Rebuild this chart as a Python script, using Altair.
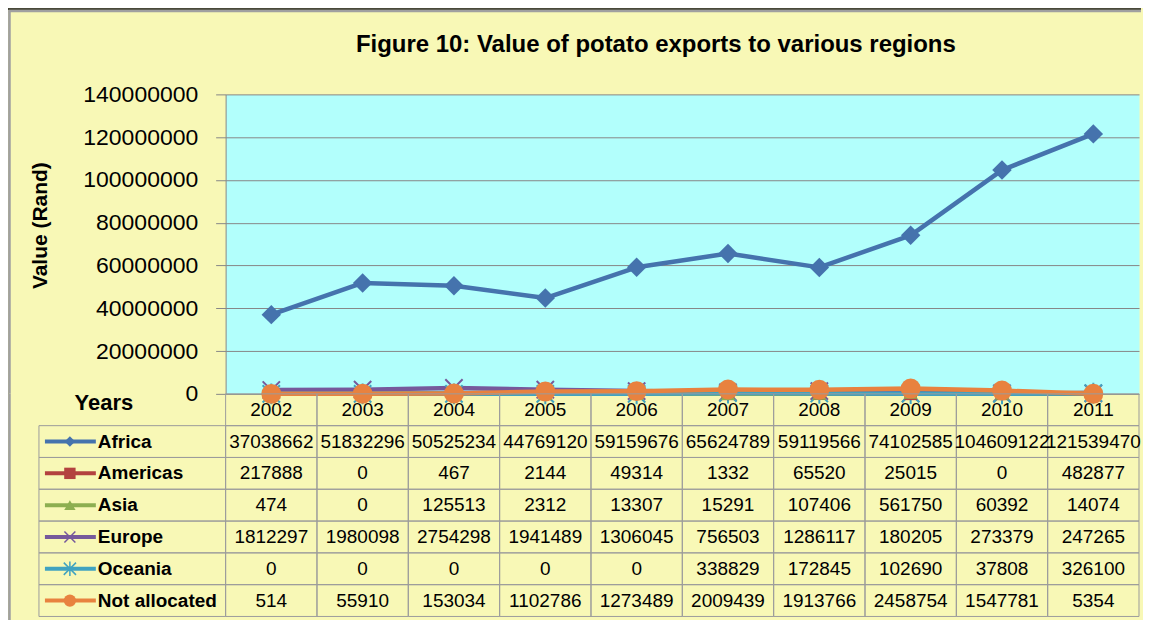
import altair as alt
import pandas as pd

# ---------------- data ----------------
years = ["2002", "2003", "2004", "2005", "2006", "2007", "2008", "2009", "2010", "2011"]
series = ["Africa", "Americas", "Asia", "Europe", "Oceania", "Not allocated"]

africa = [37038662, 51832296, 50525234, 44769120, 59159676, 65624789, 59119566, 74102585, 104609122, 121539470]
americas = [217888, 0, 467, 2144, 49314, 1332, 65520, 25015, 0, 482877]
asia = [474, 0, 125513, 2312, 13307, 15291, 107406, 561750, 60392, 14074]
europe = [1812297, 1980098, 2754298, 1941489, 1306045, 756503, 1286117, 180205, 273379, 247265]
oceania = [0, 0, 0, 0, 0, 338829, 172845, 102690, 37808, 326100]
not_allocated = [514, 55910, 153034, 1102786, 1273489, 2009439, 1913766, 2458754, 1547781, 5354]

y_ticks = [0, 20000000, 40000000, 60000000, 80000000, 100000000, 120000000, 140000000]
title_text = "Figure 10: Value of potato exports to various regions"
y_title = "Value (Rand)"
x_title = "Years"

# ---------------- styles ----------------
FONT = "Liberation Sans"
colors = ["#4573AD", "#B3423F", "#8DAF50", "#76599B", "#40A3C0", "#E8823F"]
X_PATH = "M-1,-1L1,1M-1,1L1,-1"
STAR_PATH = "M-1,-1L1,1M-1,1L1,-1M0,-1.2L0,1.2"
shapes = ["diamond", "square", "triangle-up", X_PATH, STAR_PATH, "circle"]
filled = [True, True, True, False, False, True]
plot_sizes = [380, 160, 200, 300, 300, 400]
legend_sizes = [110, 130, 130, 120, 150, 150]
YELLOW = "#F8F8B6"
CYAN = "#B2FFFC"
GRID = "#878787"
CELL = "#9C9C9C"

W, H = 915, 300
TH = 223

vals = [africa, americas, asia, europe, oceania, not_allocated]
long_df = pd.DataFrame(
    [{"series": s, "year": y, "value": v[i]} for s, v in zip(series, vals) for i, y in enumerate(years)]
)

color_scale = alt.Scale(domain=series, range=colors)

# ---------------- top (line) chart ----------------
x_top = alt.X("year:O", scale=alt.Scale(type="point", domain=years, padding=0.5), axis=None)
y_top = alt.Y(
    "value:Q",
    scale=alt.Scale(domain=[0, 140000000], nice=False),
    axis=alt.Axis(
        values=y_ticks, format="d", title=y_title,
        titleFontSize=21, titleFontWeight="bold", titleFont=FONT, titleColor="#000",
        titleX=-185, titleY=131, titleBaseline="middle", titleAngle=-90,
        labelFontSize=23, labelFont=FONT, labelColor="#000", labelPadding=18,
        tickSize=10, tickColor=GRID, domainColor=GRID, gridColor=GRID, grid=True,
        gridWidth=1, tickWidth=1, domainWidth=1,
    ),
)

lines = alt.Chart(long_df).mark_line(strokeWidth=4.5, strokeJoin="round").encode(
    x=x_top, y=y_top, color=alt.Color("series:N", scale=color_scale, legend=None),
    order=alt.Order("year:O"),
)

unfilled_layers = []
filled_layers = []
for i, s in enumerate(series):
    p = alt.Chart(long_df).transform_filter(alt.datum.series == s).mark_point(
        shape=shapes[i], size=plot_sizes[i], filled=filled[i], opacity=1,
        strokeWidth=2 if not filled[i] else 0,
    ).encode(x=x_top, y=alt.Y("value:Q"), color=alt.Color("series:N", scale=color_scale, legend=None))
    (filled_layers if filled[i] else unfilled_layers).append(p)

one = pd.DataFrame({"t": [title_text]})
title_mark = alt.Chart(one).mark_text(
    font=FONT, fontSize=24, fontWeight="bold", align="center", baseline="alphabetic", color="#000"
).encode(x=alt.value(431), y=alt.value(-42), text="t:N")

border_top_l = alt.Chart(one).mark_rule(color="#111", strokeWidth=1.5).encode(
    x=alt.value(-218.5), y=alt.value(-86), y2=alt.value(H))
border_top_l2 = alt.Chart(one).mark_rule(color="#A0A0A0", strokeWidth=2.5).encode(
    x=alt.value(-216.5), y=alt.value(-84), y2=alt.value(H))
border_top_t = alt.Chart(one).mark_rule(color="#111", strokeWidth=1.5).encode(
    x=alt.value(-219), x2=alt.value(W + 2), y=alt.value(-85.5))
border_top_t2 = alt.Chart(one).mark_rule(color="#A0A0A0", strokeWidth=2.5).encode(
    x=alt.value(-217.5), x2=alt.value(W + 2), y=alt.value(-83.5))

top = alt.layer(
    border_top_l, border_top_l2, border_top_t, border_top_t2, title_mark,
    lines, *unfilled_layers, *filled_layers
).properties(width=W, height=H, view=alt.ViewBackground(fill=CYAN, stroke="transparent"))

# ---------------- table chart ----------------
rows = [x_title] + series
cells = []
for y_i, y in enumerate(years):
    cells.append({"row": x_title, "year": y, "label": y})
for s, v in zip(series, vals):
    for y_i, y in enumerate(years):
        cells.append({"row": s, "year": y, "label": str(v[y_i])})
cells_df = pd.DataFrame(cells)
leg_df = pd.DataFrame({"row": series, "series": series})
years_df = pd.DataFrame({"row": [x_title]})

x_tab = alt.X("year:O", scale=alt.Scale(type="band", domain=years, paddingInner=0, paddingOuter=0), axis=None)
y_tab = alt.Y("row:N", scale=alt.Scale(type="band", domain=rows, paddingInner=0, paddingOuter=0), axis=None)
y_tab_c = alt.Y("row:N", scale=alt.Scale(type="band", domain=rows, paddingInner=0, paddingOuter=0), axis=None,
                bandPosition=0.5)

grid_rects = alt.Chart(cells_df).mark_rect(fill="transparent", stroke=CELL, strokeWidth=1).encode(x=x_tab, y=y_tab)
leg_rects = alt.Chart(leg_df).mark_rect(fill="transparent", stroke=CELL, strokeWidth=1).encode(
    x=alt.value(-187), x2=alt.value(0), y=y_tab)
cell_text = alt.Chart(cells_df).mark_text(font=FONT, fontSize=19, color="#000", baseline="middle").encode(
    x=x_tab, y=y_tab, text="label:N")
leg_lines = alt.Chart(leg_df).mark_rule(strokeWidth=4).encode(
    x=alt.value(-181), x2=alt.value(-130), y=y_tab_c,
    color=alt.Color("series:N", scale=color_scale, legend=None))
leg_points = []
for i, s in enumerate(series):
    leg_points.append(
        alt.Chart(leg_df).transform_filter(alt.datum.series == s).mark_point(
            shape=shapes[i], size=legend_sizes[i], filled=filled[i], opacity=1,
            strokeWidth=1.5 if not filled[i] else 0,
        ).encode(x=alt.value(-156), y=y_tab_c, color=alt.Color("series:N", scale=color_scale, legend=None))
    )
leg_text = alt.Chart(leg_df).mark_text(
    font=FONT, fontSize=19, fontWeight="bold", align="left", baseline="middle", color="#000"
).encode(x=alt.value(-128), y=y_tab, text="series:N")
years_text = alt.Chart(years_df).mark_text(
    font=FONT, fontSize=22, fontWeight="bold", align="center", baseline="middle", color="#000", dy=-7
).encode(x=alt.value(-122), y=y_tab, text="row:N")

border_tab_l = alt.Chart(one).mark_rule(color="#111", strokeWidth=1.5).encode(
    x=alt.value(-218.5), y=alt.value(0), y2=alt.value(TH + 4))
border_tab_l2 = alt.Chart(one).mark_rule(color="#A0A0A0", strokeWidth=2.5).encode(
    x=alt.value(-216.5), y=alt.value(0), y2=alt.value(TH + 4))

table = alt.layer(
    border_tab_l, border_tab_l2, grid_rects, leg_rects, cell_text, leg_lines, *leg_points, leg_text, years_text
).properties(width=W, height=TH, view=alt.ViewBackground(fill="transparent", stroke="transparent"))

chart = alt.vconcat(top, table, spacing=0, bounds="flush").resolve_scale(
    x="independent", y="independent"
).properties(
    background=YELLOW, padding={"left": -3, "top": -2, "right": 0, "bottom": -3}
).configure_view(stroke="transparent")

chart.save("out.html", embed_options={"renderer": "svg", "actions": False})
